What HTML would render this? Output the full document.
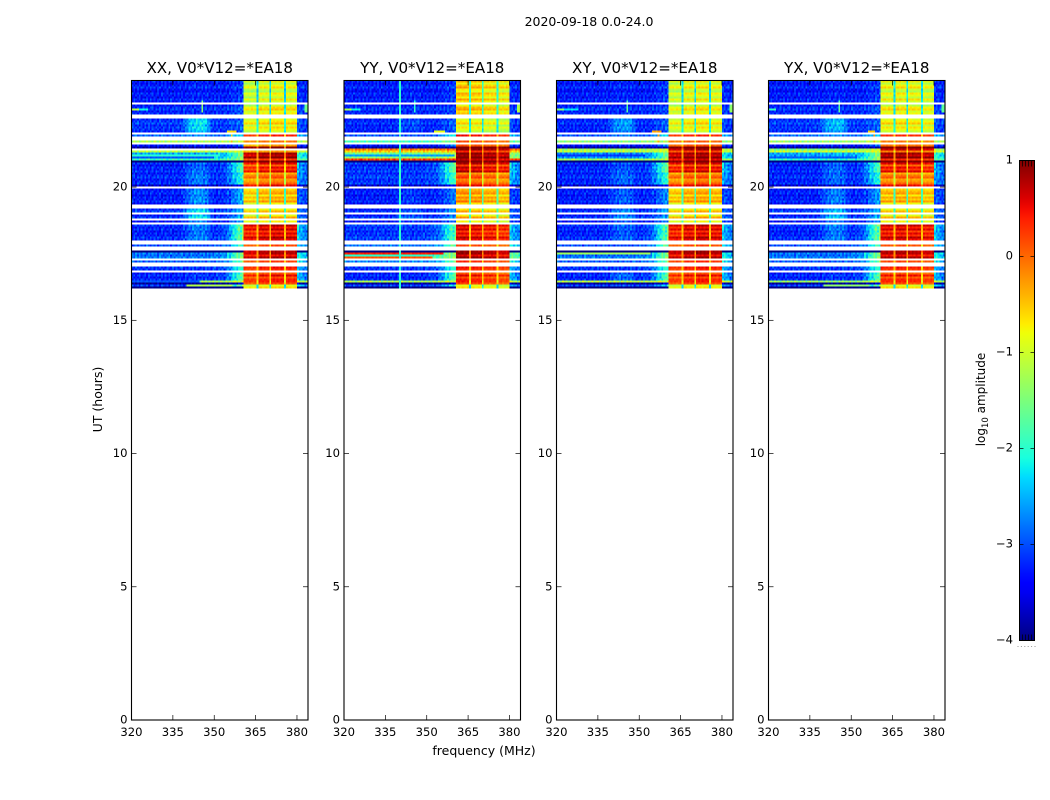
<!DOCTYPE html>
<html>
<head>
<meta charset="utf-8">
<title>2020-09-18 0.0-24.0</title>
<style>
html,body{margin:0;padding:0;background:#fff;}
svg{display:block;}
text{font-family:"DejaVu Sans","Liberation Sans",sans-serif;fill:#000;}
</style>
</head>
<body>
<svg id="figure" xmlns="http://www.w3.org/2000/svg" width="1050" height="800" viewBox="0 0 1050 800">
<text x="589" y="26" text-anchor="middle" font-size="12.5">2020-09-18 0.0-24.0</text>
<text x="484" y="755" text-anchor="middle" font-size="12.5">frequency (MHz)</text>
<text x="102" y="399.5" text-anchor="middle" font-size="12.5" transform="rotate(-90 102 399.5)">UT (hours)</text>
<text x="985" y="399.5" text-anchor="middle" font-size="12" transform="rotate(-90 985 399.5)">log<tspan font-size="8.5" dy="3">10</tspan><tspan dy="-3"> amplitude</tspan></text>
</svg>
<script>
// Time runs: number of 0.075 h rows in each band, top (24 h) to bottom.
const runLengths = [11,1,5,2,7,1,1,2,1,1,1,1,1,1,3,1,1,5,6,1,1,8,2,2,1,2,1,1,1,8,2,1,2,1,3,1,1,2,2,1,4,1,1,1,1];

// log10 amplitude per run; null = flagged (white) rows.
const xxLow  = [-3.3,null,-3.25,null,-3.15,null,-2.9,null,-1.2,null,-3.25,-3.9,null,-1.0,-2.6,-1.8,-4.2,-3.25,-3.25,-3.6,null,-3.3,null,-3.15,null,-3.25,null,-3.25,null,-3.25,null,-3.0,null,-4.2,-2.8,null,-2.9,null,-3.15,null,-3.25,-1.4,-3.8,-3.1,-4.2];
const xxBump = [-3.25,null,-3.25,null,-2.3,null,-2.7,null,-1.2,null,-3.15,-3.9,null,-1.0,-2.6,-1.8,-4.2,-2.9,-2.8,-3.6,null,-2.7,null,-2.3,null,-2.3,null,-2.6,null,-2.8,null,-3.0,null,-4.2,-2.8,null,-2.9,null,-3.15,null,-3.15,-1.4,-3.8,-3.0,-4.2];
const xxEdge = [-3.1,null,-3.0,null,-2.9,null,-2.2,null,-1.0,null,-2.8,-3.8,null,-0.9,-1.5,-1.2,-4.2,-1.7,-2.0,-3.5,null,-2.5,null,-2.5,null,-2.5,null,-2.4,null,-1.5,null,-1.8,null,-4.2,-1.3,null,-1.5,null,-1.9,null,-1.6,-1.1,-3.5,-1.3,-4.2];
const xxBand = [-1.0,null,-0.9,null,-0.8,null,0.3,null,0.0,null,-0.1,0.9,null,0.0,0.7,0.4,1.0,0.3,-0.2,0.8,null,-0.55,null,-0.7,null,-0.7,null,-0.5,null,0.45,null,0.2,null,0.9,0.65,null,0.3,null,0.3,null,0.25,0.0,0.4,-1.0,-0.8];

const yyLow  = [-3.3,null,-3.25,null,-3.25,null,-3.0,null,-1.8,null,-3.25,-3.9,-0.2,-0.5,-1.6,0.3,-4.2,-3.15,-3.15,-3.6,null,-3.3,null,-3.25,null,-3.25,null,-3.25,null,-3.15,null,-2.8,null,-4.2,-1.9,null,-2.7,null,-3.15,null,-3.25,-1.4,-3.8,-3.1,-4.2];
const yyBump = [-3.25,null,-3.25,null,-3.05,null,-3.0,null,-1.8,null,-3.25,-3.9,-0.2,-0.5,-1.6,0.3,-4.2,-3.15,-3.15,-3.6,null,-3.15,null,-3.0,null,-3.0,null,-3.05,null,-3.15,null,-2.8,null,-4.2,-1.9,null,-2.7,null,-3.15,null,-3.25,-1.4,-3.8,-3.1,-4.2];
const yyEdge = [-3.1,null,-3.1,null,-2.9,null,-2.0,null,-1.3,null,-2.6,-3.8,-0.1,-0.4,-1.2,0.3,-4.2,-1.5,-1.8,-3.4,null,-2.8,null,-2.6,null,-2.7,null,-2.7,null,-1.7,null,-1.5,null,-4.2,-1.3,null,-1.5,null,-1.9,null,-1.6,-1.1,-3.5,-2.0,-4.2];
const yyBand = [-0.65,null,-0.7,null,-0.9,null,0.4,null,0.2,null,0.3,1.0,0.7,0.6,0.8,0.85,1.0,0.5,-0.1,0.8,null,-0.4,null,-0.6,null,-0.65,null,-0.55,null,0.4,null,0.2,null,1.0,0.75,null,0.4,null,0.3,null,0.25,0.0,0.4,-1.0,-0.9];

const xyLow  = [-3.3,null,-3.25,null,-3.25,null,-3.0,null,-1.4,null,-3.25,-3.9,-1.4,-1.0,-2.8,-1.2,-4.2,-3.25,-3.25,-3.6,null,-3.3,null,-3.25,null,-3.25,null,-3.25,null,-3.25,null,-3.0,null,-4.2,-2.8,null,-2.9,null,-3.15,null,-3.25,-1.3,-3.8,-3.1,-4.2];
const xyBump = [-3.25,null,-3.25,null,-2.65,null,-2.8,null,-1.4,null,-3.15,-3.9,-1.4,-1.0,-2.8,-1.2,-4.2,-3.0,-2.9,-3.6,null,-2.95,null,-2.75,null,-2.75,null,-2.85,null,-2.95,null,-3.0,null,-4.2,-2.8,null,-2.9,null,-3.15,null,-2.9,-1.3,-3.8,-3.0,-4.2];
const xyEdge = [-3.1,null,-3.1,null,-2.9,null,-2.1,null,-1.2,null,-2.6,-3.8,-1.0,-0.9,-1.6,-1.1,-4.2,-1.5,-1.9,-3.4,null,-2.7,null,-2.5,null,-2.6,null,-2.6,null,-1.6,null,-1.5,null,-4.2,-1.3,null,-1.5,null,-1.9,null,-1.6,-1.1,-3.5,-2.2,-4.2];
const xyBand = [-0.95,null,-0.95,null,-0.85,null,0.3,null,0.1,null,0.3,1.0,0.6,0.5,0.7,0.75,1.0,0.4,-0.15,0.8,null,-0.5,null,-0.65,null,-0.65,null,-0.55,null,0.45,null,0.2,null,1.0,0.7,null,0.4,null,0.3,null,0.25,0.0,0.4,-1.0,-0.9];

const yxLow  = [-3.3,null,-3.25,null,-3.15,null,-2.9,null,-1.3,null,-3.25,-3.9,-1.6,-0.9,-2.6,-1.9,-4.2,-3.25,-3.25,-3.6,null,-3.3,null,-3.15,null,-3.25,null,-3.25,null,-3.25,null,-3.0,null,-4.2,-2.8,null,-2.9,null,-3.15,null,-3.25,-1.5,-3.8,-3.1,-4.2];
const yxBump = [-3.25,null,-3.25,null,-2.5,null,-2.7,null,-1.3,null,-3.15,-3.9,-1.6,-0.9,-2.5,-1.9,-4.2,-2.9,-2.9,-3.6,null,-2.8,null,-2.5,null,-2.5,null,-2.7,null,-2.8,null,-3.0,null,-4.2,-2.8,null,-2.9,null,-3.15,null,-3.15,-1.5,-3.8,-3.0,-4.2];
const yxEdge = [-3.1,null,-3.0,null,-2.9,null,-2.2,null,-1.0,null,-2.7,-3.8,-1.0,-0.8,-1.4,-1.2,-4.2,-1.7,-2.0,-3.5,null,-2.6,null,-2.5,null,-2.5,null,-2.5,null,-1.5,null,-1.7,null,-4.2,-1.3,null,-1.5,null,-1.9,null,-1.6,-1.1,-3.5,-1.4,-4.2];
const yxBand = [-0.9,null,-0.9,null,-0.8,null,0.3,null,0.0,null,0.2,1.0,0.5,0.2,0.75,0.5,1.0,0.35,-0.2,0.8,null,-0.5,null,-0.7,null,-0.7,null,-0.5,null,0.45,null,0.2,null,0.95,0.7,null,0.3,null,0.3,null,0.25,0.0,0.4,-1.0,-0.8];

// Isolated interference: [first row, last row, first MHz, last MHz, log10 amplitude].
const xxSpots = [[14,14,320,323,-1.2],[14,14,323,326,-2.2],[10,15,345.3,345.9,-1.4],[25,30,356,356.7,-0.5],[25,25,355,358,-0.6],[12,15,383,384,-1.6],[37,37,320,352,-2.0],[38,38,320,350,-3.0],[102,102,340,357,-1.2],[100,100,320,345,-3.0]];
const yySpots = [[0,103,340,340.7,-2.0],[14,14,320,323,-1.3],[14,14,323,326,-2.2],[10,15,345.3,345.9,-2.0],[25,25,353,357,-0.8],[12,15,383,384,-1.2],[86,86,320,356,0.4],[87,87,320,350,-2.0],[88,88,320,352,0.1],[37,37,320,360,-2.6]];
const xySpots = [[14,14,320,323,-1.5],[14,14,323,328,-2.3],[10,15,345.3,345.9,-1.7],[25,30,356.5,357.2,-0.3],[25,25,355,358,-0.3],[12,15,383,384,-1.4],[86,86,320,354,-1.3],[37,37,320,352,-3.1]];
const yxSpots = [[14,14,320,323,-2.0],[10,15,345.3,345.9,-1.7],[25,30,358,358.7,-0.3],[25,25,356,359,-0.5],[12,15,383,384,-1.7],[38,38,320,352,-3.0],[102,102,340,357,-1.4]];

// Frequency ranges of the four bright sub-bands, MHz.
const bandStarts = [360.5,366.0,370.8,375.8];
const bandEnds   = [365.1,370.1,375.1,380.0];

// Level of each sub-band relative to the run value, per panel.
const xxBandTint = [-0.1,0.05,0.1,0.05];
const yyBandTint = [0.1,0.05,-0.05,-0.15];
const xyBandTint = [-0.1,0.05,0.1,0.0];
const yxBandTint = [0.0,0.05,0.0,-0.1];

// Per-MHz weights below 361 MHz for the broad bump and the rising band edge.
const bumpWeights = [0,0,0,0,0,0,0,0,0,0,0,0,0,0,0,0,0,0,0.1,0.3,0.6,0.8,0.9,1,1,1,1,0.8,0.4,0.1,0,0,0,0,0,0,0,0,0,0,0];
const edgeWeights = [0,0,0,0,0,0,0,0,0,0,0,0,0,0,0,0,0,0,0,0,0,0,0,0,0,0,0,0,0,0.03,0.05,0.06,0.08,0.1,0.15,0.3,0.45,0.6,0.75,0.85,1];
const highWeights = [0.55,0.4,0.3,0.25];

// Pixel-to-pixel scatter, log10 units.
const rowScatter = [0.08,-0.11,0.04,0.15,-0.07,-0.14,0.1,0.02,-0.09,0.13,-0.04,0.06,-0.12,0.09,0.16,-0.03,0.05,-0.15,0.11,-0.06,0.03,0.14,-0.1,0.07,-0.02,-0.13,0.12,0.01,-0.08,0.1,-0.05,0.15,-0.11,0.04,0.08,-0.14,0.06,-0.03,0.13,-0.09,0.02,0.11,-0.16,0.07,-0.04,0.12,-0.1,0.05,0.14,-0.07,-0.01,0.09,-0.13,0.15,-0.06,0.03,0.1,-0.12,0.08,-0.02,0.13,-0.15,0.04,0.06,-0.08,0.11,-0.05,-0.1,0.16,0.01,-0.14,0.07,0.12,-0.03,0.09,-0.11,0.05,-0.07,0.14,0.02,-0.13,0.1,-0.04,0.08,0.15,-0.09,0.03,-0.12,0.06,0.11,-0.06,-0.15,0.13,0.04,-0.02,0.09,-0.1,0.12,-0.08,0.05,0.16,-0.13,0.01,0.07];
const channelScatter = [0.21,-0.14,0.06,-0.27,0.18,0.03,-0.2,0.28,-0.09,0.12,-0.24,0.17,0.31,-0.16,0.02,-0.29,0.22,-0.05,0.14,-0.19,0.26,0.08,-0.33,0.11,-0.12,0.24,-0.02,0.19,-0.26,0.05,0.29,-0.17,-0.07,0.15,-0.22,0.32,0.01,-0.13,0.2,-0.3,0.09,0.25,-0.18,-0.04,0.16,-0.25,0.27,0.07,-0.11,0.13,-0.34,0.23,-0.01,0.18,-0.21,0.3,-0.08,0.1,-0.28,0.04,0.2,-0.15,0.26,-0.06,0.12,-0.23,0.33,0.0,-0.19,0.17,-0.1,0.28,-0.31,0.06,0.22,-0.16,0.11,-0.03,0.24,-0.27,0.14,0.05,-0.2,0.3,-0.12,0.08,-0.24,0.19,0.02,-0.29,0.25,-0.07,0.16,-0.18,0.1,-0.13];

const panelTitles = ["XX, V0*V12=*EA18","YY, V0*V12=*EA18","XY, V0*V12=*EA18","YX, V0*V12=*EA18"];
const panelKeys = ["xx","yy","xy","yx"];
const lowByPanel = [xxLow,yyLow,xyLow,yxLow];
const bumpByPanel = [xxBump,yyBump,xyBump,yxBump];
const edgeByPanel = [xxEdge,yyEdge,xyEdge,yxEdge];
const bandByPanel = [xxBand,yyBand,xyBand,yxBand];
const spotsByPanel = [xxSpots,yySpots,xySpots,yxSpots];
const tintByPanel = [xxBandTint,yyBandTint,xyBandTint,yxBandTint];

const xTicks = [320,335,350,365,380];
const yTicks = [0,5,10,15,20];
const colorTicks = [1,0,-1,-2,-3,-4];

const NS = "http://www.w3.org/2000/svg";
const svg = document.getElementById("figure");
function make(tag, attrs, parent) {
  const e = document.createElementNS(NS, tag);
  for (const k in attrs) e.setAttribute(k, attrs[k]);
  (parent || svg).appendChild(e);
  return e;
}

const panelLefts = [131.5,344,556.5,768.5];
const panelWidth = 176.5, panelTop = 80.5, panelBottom = 720;
const freqMin = 320, freqMax = 384, hourMax = 24, rowHours = 0.075, channelCount = 96;
const cbarLeft = 1019.5, cbarRight = 1034.5, cbarTop = 160.5, cbarBottom = 640.5;

function xScale(i, f) { return panelLefts[i] + (f - freqMin) / (freqMax - freqMin) * panelWidth; }
function yScale(h) { return panelBottom - h / hourMax * (panelBottom - panelTop); }
function cbarScale(v) { return cbarBottom - (v + 4) / 5 * (cbarBottom - cbarTop); }

function jetChannel(p, pts) {
  for (let i = 1; i < pts.length; i++) {
    if (p <= pts[i][0]) {
      const a = pts[i-1], b = pts[i];
      return a[1] + (b[1] - a[1]) * (p - a[0]) / (b[0] - a[0]);
    }
  }
  return pts[pts.length-1][1];
}
const jetR = [[0,0],[0.35,0],[0.66,1],[0.89,1],[1,0.5]];
const jetG = [[0,0],[0.125,0],[0.375,1],[0.64,1],[0.91,0],[1,0]];
const jetB = [[0,0.5],[0.11,1],[0.34,1],[0.65,0],[1,0]];
function jet(v) {
  const p = Math.max(0, Math.min(1, (v + 4) / 5));
  const c = [jetR, jetG, jetB].map(t => Math.round(255 * jetChannel(p, t)));
  return "rgb(" + c.join(",") + ")";
}

// Cell value for a panel, run and channel.
function cellValue(i, run, row, ch) {
  const f = freqMin + (ch + 0.5) * (freqMax - freqMin) / channelCount;
  const low = lowByPanel[i][run], bump = bumpByPanel[i][run], edge = edgeByPanel[i][run], band = bandByPanel[i][run];
  const chanGrain = channelScatter[(ch + row * 37) % channelCount];
  const grain = rowScatter[row] + chanGrain;
  for (const s of spotsByPanel[i]) {
    if (row >= s[0] && row <= s[1] && f >= s[2] && f < s[3]) return s[4] + grain * 0.3;
  }
  if (f < bandStarts[0]) {
    const k = Math.floor(f - freqMin);
    return low + bumpWeights[k] * (bump - low) + edgeWeights[k] * (edge - low) + grain;
  }
  if (f >= bandEnds[3]) {
    const k = Math.min(3, Math.floor(f - bandEnds[3]));
    return low + highWeights[k] * (edge - low) + grain;
  }
  for (let b = 0; b < 4; b++) {
    if (f >= bandStarts[b] && f < bandEnds[b]) {
      return band + tintByPanel[i][b] + rowScatter[row] * 2.2 + chanGrain * 0.35;
    }
  }
  return band - (band < -0.3 ? 1.35 : 0.9) + grain * 0.5;
}

panelKeys.forEach(function (key, i) {
  const left = panelLefts[i], right = left + panelWidth;

  const clip = make("clipPath", { id: "clip-" + key });
  make("rect", { x: left, y: panelTop, width: panelWidth, height: panelBottom - panelTop }, clip);

  const title = make("text", { x: left + panelWidth / 2, y: 73, "text-anchor": "middle", "font-size": 15.1 });
  
  
  title.textContent = panelTitles[i];

  const heat = make("g", { "clip-path": "url(#clip-" + key + ")", "shape-rendering": "crispEdges" });
  
  

  let row = 0;
  runLengths.forEach(function (count, run) {
    for (let n = 0; n < count; n++, row++) {
      if (lowByPanel[i][run] === null) continue;
      const h = hourMax - row * rowHours;
      const y0 = yScale(h), y1 = yScale(h - rowHours);
      for (let ch = 0; ch < channelCount; ch++) {
        const f0 = freqMin + ch * (freqMax - freqMin) / channelCount;
        const f1 = freqMin + (ch + 1) * (freqMax - freqMin) / channelCount;
        const cell = document.createElementNS(NS, "rect");
        
        
        cell.setAttribute("x", xScale(i, f0));
        cell.setAttribute("y", y0);
        cell.setAttribute("width", xScale(i, f1) - xScale(i, f0) + 0.4);
        cell.setAttribute("height", y1 - y0 + 0.1);
        cell.setAttribute("fill", jet(cellValue(i, run, row, ch)));
        heat.appendChild(cell);
      }
    }
  });

  const frame = make("rect", { x: left, y: panelTop, width: panelWidth, height: panelBottom - panelTop, fill: "none", stroke: "#000", "stroke-width": 1.1 });
  
  

  xTicks.forEach(function (t) {
    const x = xScale(i, t);
    const tickB = make("line", { x1: x, x2: x, y1: panelBottom, y2: panelBottom - 5, stroke: "#000", "stroke-width": 0.7 });
    
    
    const tickT = make("line", { x1: x, x2: x, y1: panelTop, y2: panelTop + 5, stroke: "#000", "stroke-width": 0.7 });
    
    
    const lab = make("text", { x: x, y: 736, "text-anchor": "middle", "font-size": 11.6 });
    
    
    lab.textContent = t;
  });

  yTicks.forEach(function (t) {
    const y = yScale(t);
    const tickL = make("line", { x1: left, x2: left + 5, y1: y, y2: y, stroke: "#000", "stroke-width": 0.7 });
    
    
    const tickR = make("line", { x1: right, x2: right - 5, y1: y, y2: y, stroke: "#000", "stroke-width": 0.7 });
    
    
    const lab = make("text", { x: left - 4, y: y + 3.5, "text-anchor": "end", "font-size": 11.6 });
    
    
    lab.textContent = t;
  });
});

// Colorbar
const defs = make("defs", {});
const grad = make("linearGradient", { id: "jet-gradient", x1: 0, y1: 1, x2: 0, y2: 0 }, defs);
for (let s = 0; s <= 50; s++) {
  make("stop", { offset: s / 50, "stop-color": jet(-4 + s / 10) }, grad);
}
const cbar = make("rect", { x: cbarLeft, y: cbarTop, width: cbarRight - cbarLeft, height: cbarBottom - cbarTop, fill: "url(#jet-gradient)", stroke: "#000", "stroke-width": 1 });



colorTicks.forEach(function (t) {
  const y = cbarScale(t);
  const tickL = make("line", { x1: cbarLeft, x2: cbarLeft + 4, y1: y, y2: y, stroke: "#000", "stroke-width": 0.7 });
  
  
  const tickR = make("line", { x1: cbarRight, x2: cbarRight - 4, y1: y, y2: y, stroke: "#000", "stroke-width": 0.7 });
  
  
  const lab = make("text", { x: 1013, y: y + 3, "text-anchor": "end", "font-size": 11.6 });
  
  
  lab.textContent = String(t).replace("-", "\u2212");
});

for (let k = 1; k <= 4; k++) {
  const x = cbarLeft + k * (cbarRight - cbarLeft) / 5;
  const top = make("line", { x1: x, x2: x, y1: cbarTop, y2: cbarTop + 6, stroke: "#000", "stroke-width": 0.7 });
  
  
  const bot = make("line", { x1: x, x2: x, y1: cbarBottom, y2: cbarBottom - 6, stroke: "#000", "stroke-width": 0.7 });
  
  
}
for (let k = 0; k <= 5; k++) {
  const dot = make("rect", { x: 1017.5 + k * 3.4, y: 646, width: 1, height: 1, fill: "#999" });
  
  
}
</script>
</body>
</html>
